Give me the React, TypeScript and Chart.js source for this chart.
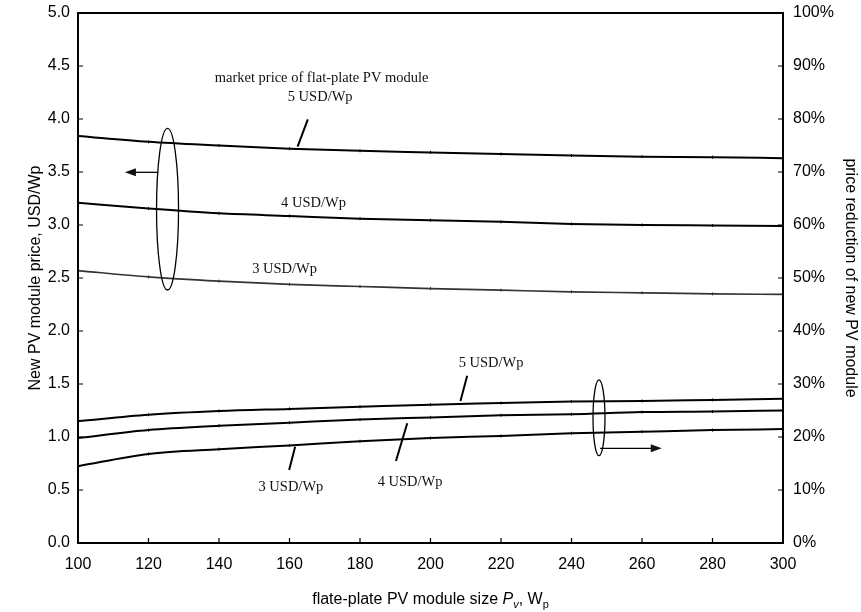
import React, { useEffect, useRef } from "react";
import { Chart, registerables } from "chart.js";

Chart.register(...registerables);

// ---- data ----
const moduleSizes = [100, 120, 140, 160, 180, 200, 220, 240, 260, 280, 300];

// New PV module price (USD/Wp), left axis
const newPrice5 = [3.84, 3.785, 3.75, 3.72, 3.70, 3.685, 3.67, 3.655, 3.645, 3.64, 3.63];
const newPrice4 = [3.21, 3.155, 3.11, 3.085, 3.06, 3.045, 3.03, 3.01, 3.0, 2.995, 2.99];
const newPrice3 = [2.57, 2.51, 2.47, 2.44, 2.42, 2.40, 2.385, 2.37, 2.36, 2.35, 2.345];

// Price reduction of new PV module (%), right axis
const reduction5 = [23.0, 24.2, 24.9, 25.3, 25.7, 26.1, 26.4, 26.7, 26.8, 27.0, 27.2];
const reduction4 = [19.8, 21.3, 22.1, 22.7, 23.3, 23.7, 24.1, 24.3, 24.7, 24.8, 25.0];
const reduction3 = [14.5, 16.8, 17.7, 18.4, 19.2, 19.8, 20.2, 20.7, 21.0, 21.3, 21.5];

const xTitle = "flate-plate PV module size ";
const yLeftTitle = "New PV module price, USD/Wp";
const yRightTitle = "price reduction of new PV module";

// annotation texts (positions in data units: x = Wp, y = USD/Wp on left axis)
const labelTexts = [
  { text: "market price of flat-plate PV module", x: 169.1, y: 4.384 },
  { text: "5 USD/Wp", x: 168.7, y: 4.205 },
  { text: "4 USD/Wp", x: 166.8, y: 3.21 },
  { text: "3 USD/Wp", x: 158.6, y: 2.582 },
  { text: "5 USD/Wp", x: 217.2, y: 1.695 },
  { text: "4 USD/Wp", x: 194.2, y: 0.578 },
  { text: "3 USD/Wp", x: 160.4, y: 0.525 },
];
const leaderLines = [
  [165.2, 3.997, 162.3, 3.739],
  [210.4, 1.578, 208.5, 1.34],
  [193.4, 1.129, 190.2, 0.774],
  [161.6, 0.908, 159.9, 0.689],
];
const ellipses = [
  { x: 125.4, y: 3.149, rx: 3.12, ry: 0.762 },
  { x: 247.8, y: 1.181, rx: 1.7, ry: 0.357 },
];
const arrows = [
  [122.8, 3.497, 113.3, 3.497],
  [248.1, 0.893, 265.6, 0.893],
];

const SANS = "'Liberation Sans', Arial, Helvetica, sans-serif";
const SERIF = "'Liberation Serif', 'Times New Roman', serif";

const decorPlugin = {
  id: "decor",
  afterDraw(chart: any) {
    const ctx = chart.ctx as CanvasRenderingContext2D;
    const a = chart.chartArea;
    const xs = chart.scales.x;
    const ys = chart.scales.y;
    const y2 = chart.scales.y2;
    ctx.save();
    // frame
    ctx.strokeStyle = "#000";
    ctx.lineWidth = 2;
    ctx.strokeRect(a.left, a.top, a.right - a.left, a.bottom - a.top);
    // inward ticks
    ctx.lineWidth = 1.2;
    ctx.beginPath();
    xs.ticks.forEach((t: any) => {
      const p = xs.getPixelForValue(t.value);
      ctx.moveTo(p, a.bottom);
      ctx.lineTo(p, a.bottom - 5);
    });
    ys.ticks.forEach((t: any) => {
      const p = ys.getPixelForValue(t.value);
      ctx.moveTo(a.left, p);
      ctx.lineTo(a.left + 5, p);
    });
    y2.ticks.forEach((t: any) => {
      const p = y2.getPixelForValue(t.value);
      ctx.moveTo(a.right, p);
      ctx.lineTo(a.right - 5, p);
    });
    ctx.stroke();

    const X = (v: number) => xs.getPixelForValue(v);
    const Y = (v: number) => ys.getPixelForValue(v);

    // annotation texts
    ctx.fillStyle = "#111";
    ctx.font = `14.5px ${SERIF}`;
    ctx.textAlign = "center";
    ctx.textBaseline = "middle";
    labelTexts.forEach((l) => ctx.fillText(l.text, X(l.x), Y(l.y)));

    // leader lines
    ctx.lineWidth = 2;
    ctx.beginPath();
    leaderLines.forEach((l) => {
      ctx.moveTo(X(l[0]), Y(l[1]));
      ctx.lineTo(X(l[2]), Y(l[3]));
    });
    ctx.stroke();

    // ellipses
    ctx.lineWidth = 1.3;
    ellipses.forEach((e) => {
      const cx = X(e.x);
      const cy = Y(e.y);
      const rx = Math.abs(X(e.x + e.rx) - cx);
      const ry = Math.abs(Y(e.y + e.ry) - cy);
      ctx.beginPath();
      ctx.ellipse(cx, cy, rx, ry, 0, 0, Math.PI * 2);
      ctx.stroke();
    });

    // arrows
    arrows.forEach((ar) => {
      const x0 = X(ar[0]);
      const y0 = Y(ar[1]);
      const x1 = X(ar[2]);
      const y1 = Y(ar[3]);
      const dir = Math.sign(x1 - x0);
      ctx.lineWidth = 1.3;
      ctx.beginPath();
      ctx.moveTo(x0, y0);
      ctx.lineTo(x1 - dir * 8, y1);
      ctx.stroke();
      ctx.beginPath();
      ctx.moveTo(x1, y1);
      ctx.lineTo(x1 - dir * 11, y1 - 4);
      ctx.lineTo(x1 - dir * 11, y1 + 4);
      ctx.closePath();
      ctx.fill();
    });

    // axis titles
    ctx.fillStyle = "#000";
    const midY = (a.top + a.bottom) / 2;
    ctx.font = `16px ${SANS}`;
    ctx.textAlign = "center";
    ctx.textBaseline = "middle";
    ctx.save();
    ctx.translate(36, midY);
    ctx.rotate(-Math.PI / 2);
    ctx.fillText(yLeftTitle, 0, 0);
    ctx.restore();
    ctx.save();
    ctx.translate(850, midY);
    ctx.rotate(Math.PI / 2);
    ctx.fillText(yRightTitle, 0, 0);
    ctx.restore();

    // x title with italic P and subscripts
    const segs = [
      { t: xTitle, f: `16px ${SANS}`, dy: 0 },
      { t: "P", f: `italic 16px ${SANS}`, dy: 0 },
      { t: "v", f: `italic 11px ${SANS}`, dy: 4 },
      { t: ", W", f: `16px ${SANS}`, dy: 0 },
      { t: "p", f: `11px ${SANS}`, dy: 4 },
    ];
    let total = 0;
    segs.forEach((s) => {
      ctx.font = s.f;
      total += ctx.measureText(s.t).width;
    });
    let cx = (a.left + a.right) / 2 - total / 2;
    ctx.textAlign = "left";
    ctx.textBaseline = "alphabetic";
    segs.forEach((s) => {
      ctx.font = s.f;
      ctx.fillText(s.t, cx, 604 + s.dy);
      cx += ctx.measureText(s.t).width;
    });
    ctx.restore();
  },
};

function lineDataset(label: string, data: number[], axis: string, color: string, width: number) {
  return {
    label,
    data: moduleSizes.map((x, i) => ({ x, y: data[i] })),
    yAxisID: axis,
    borderColor: color,
    borderWidth: width,
    tension: 0.4,
    cubicInterpolationMode: "monotone" as const,
    pointStyle: "line" as const,
    rotation: 90,
    pointRadius: 1.5,
    pointBorderWidth: 1,
    pointBorderColor: color,
    pointBackgroundColor: color,
    fill: false,
  };
}

const fixVertical = (s: any) => {
  s.width = 78;
  s.paddingTop = 0;
  s.paddingBottom = 0;
};

export default function App() {
  const ref = useRef<HTMLCanvasElement>(null);
  useEffect(() => {
    const chart = new Chart(ref.current!, {
      type: "line",
      data: {
        datasets: [
          lineDataset("new price, 5 USD/Wp", newPrice5, "y", "#000", 2),
          lineDataset("new price, 4 USD/Wp", newPrice4, "y", "#000", 2),
          lineDataset("new price, 3 USD/Wp", newPrice3, "y", "#333", 1.7),
          lineDataset("reduction, 5 USD/Wp", reduction5, "y2", "#000", 2),
          lineDataset("reduction, 4 USD/Wp", reduction4, "y2", "#000", 2),
          lineDataset("reduction, 3 USD/Wp", reduction3, "y2", "#000", 2),
        ],
      },
      options: {
        animation: false,
        responsive: true,
        maintainAspectRatio: false,
        layout: { padding: { top: 13, left: 0, right: 0, bottom: 0 } },
        plugins: { legend: { display: false }, tooltip: { enabled: false } },
        scales: {
          x: {
            type: "linear",
            min: 100,
            max: 300,
            grid: { display: false, drawTicks: false },
            border: { display: false },
            ticks: {
              stepSize: 20,
              autoSkip: false,
              maxRotation: 0,
              padding: 12,
              color: "#000",
              font: { family: SANS, size: 16 },
            },
            afterFit: (s: any) => {
              s.height = 69;
              s.paddingLeft = 0;
              s.paddingRight = 0;
            },
          },
          y: {
            position: "left",
            min: 0,
            max: 5,
            grid: { display: false, drawTicks: false },
            border: { display: false },
            ticks: {
              stepSize: 0.5,
              padding: 8,
              color: "#000",
              font: { family: SANS, size: 16 },
              callback: (v: any) => Number(v).toFixed(1),
            },
            afterFit: fixVertical,
          },
          y2: {
            position: "right",
            min: 0,
            max: 100,
            grid: { display: false, drawTicks: false },
            border: { display: false },
            ticks: {
              stepSize: 10,
              padding: 10,
              color: "#000",
              font: { family: SANS, size: 16 },
              callback: (v: any) => `${v}%`,
            },
            afterFit: fixVertical,
          },
        },
      },
      plugins: [decorPlugin],
    });
    return () => chart.destroy();
  }, []);
  return (
    <div style={{ position: "fixed", left: 0, top: 0, width: 861, height: 612, background: "#fff" }}>
      <canvas ref={ref} />
    </div>
  );
}
